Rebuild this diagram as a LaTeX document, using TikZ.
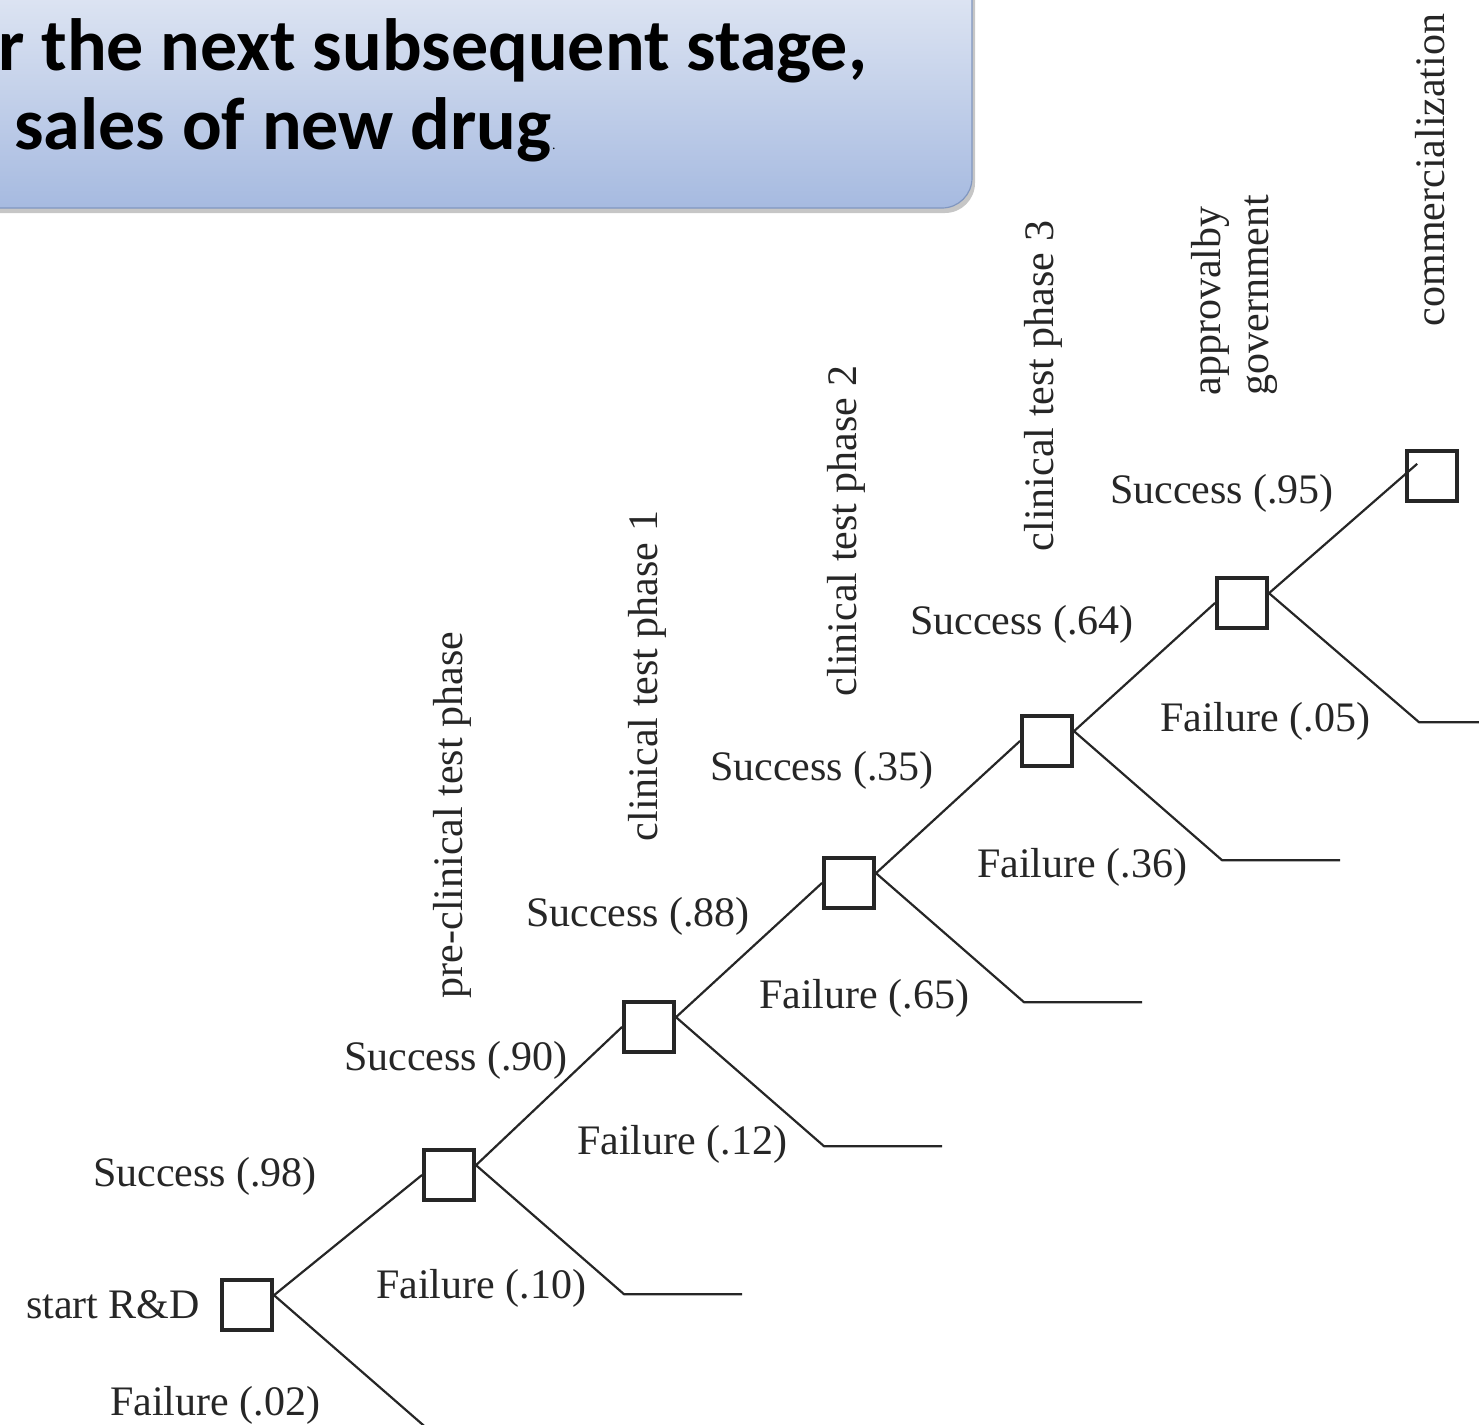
\documentclass[tikz,border=0pt]{standalone}
\usepackage{fontspec}
\setmainfont{Liberation Serif}
\newfontfamily\bannerfont{Carlito}
\usetikzlibrary{positioning, calc, shadows}
\definecolor{bannertop}{HTML}{EBEFF7}
\definecolor{bannerbottom}{HTML}{A6BAE0}
\definecolor{bannerline}{HTML}{8197C0}
\tikzset{
    stagebox/.style={
        draw=black!85,
        line width=2pt,
        minimum size=25pt,
        inner sep=0pt
    },
    branch/.style={draw=black!85, line width=1.1pt},
    prob/.style={font=\fontsize{21}{24}\selectfont, text=black!85, inner sep=0pt},
    phase/.style={
        font=\fontsize{21}{24}\selectfont,
        text=black!85,
        rotate=90,
        align=left,
        inner sep=0pt
    },
    banner/.style={
        draw=bannerline,
        line width=0.6pt,
        rounded corners=15pt,
        top color=bannertop,
        bottom color=bannerbottom,
        drop shadow={shadow xshift=1.5pt, shadow yshift=-2.5pt, opacity=0.45}
    },
    bannertext/.style={
        font={\bannerfont\fontsize{37}{40}\selectfont\bfseries},
        inner sep=0pt,
        anchor=base west
    }
}

\begin{document}
\begin{tikzpicture}[x=0.5pt, y=-0.5pt]

\useasboundingbox (0,0) rectangle (1479,1425);
\clip (0,0) rectangle (1479,1425);

% callout at the top
\path[banner] (-60,-60) rectangle (972,208);
\node[bannertext] (line1) at (-2,70) {r the next subsequent stage,};
\node[bannertext] (line2) at (14,149) {sales of new drug};
\node[font=\fontsize{7}{7}\selectfont, inner sep=0pt, anchor=base west] (dot) at (line2.base east) {.};

% stages
\node[stagebox] (rd) at (247,1305) {};
\node[stagebox] (pre) at (449,1175) {};
\node[stagebox] (ph1) at (649,1027) {};
\node[stagebox] (ph2) at (849,883) {};
\node[stagebox] (ph3) at (1047,741) {};
\node[stagebox] (gov) at (1242,603) {};
\node[stagebox] (comm) at (1432,476) {};

% success branches
\draw[branch] (rd.20) -- (pre.west);
\draw[branch] (pre.20) -- (ph1.west);
\draw[branch] (ph1.20) -- (ph2.west);
\draw[branch] (ph2.20) -- (ph3.west);
\draw[branch] (ph3.20) -- (gov.west);
\draw[branch] (gov.20) -- ($(comm.west)!0.45!(comm.north)$);

% failure branches
\draw[branch] (rd.20) -- ++(170,148) coordinate (rdOut);
\draw[branch] (pre.20) -- ++(148,129) -- ++(118,0) coordinate (preOut);
\draw[branch] (ph1.20) -- ++(148,129) -- ++(118,0) coordinate (ph1Out);
\draw[branch] (ph2.20) -- ++(148,129) -- ++(118,0) coordinate (ph2Out);
\draw[branch] (ph3.20) -- ++(148,129) -- ++(118,0) coordinate (ph3Out);
\draw[branch] (gov.20) -- ++(150,129) -- ++(118,0) coordinate (govOut);

% probabilities
\node[prob] (rdName) at (113,1305) {start R\&D};
\node[prob] (rdS) at (205,1176) {Success (.98)};
\node[prob] (rdF) at (215,1405) {Failure (.02)};
\node[prob] (preS) at (456,1060) {Success (.90)};
\node[prob] (preF) at (481,1288) {Failure (.10)};
\node[prob] (ph1S) at (638,916) {Success (.88)};
\node[prob] (ph1F) at (682,1144) {Failure (.12)};
\node[prob] (ph2S) at (822,770) {Success (.35)};
\node[prob] (ph2F) at (864,998) {Failure (.65)};
\node[prob] (ph3S) at (1022,624) {Success (.64)};
\node[prob] (ph3F) at (1082,867) {Failure (.36)};
\node[prob] (govS) at (1222,493) {Success (.95)};
\node[prob] (govF) at (1265,721) {Failure (.05)};

% phase names
\node[phase] (preL) at (452,815) {pre-clinical test phase};
\node[phase] (ph1L) at (647,676) {clinical test phase 1};
\node[phase] (ph2L) at (846,531) {clinical test phase 2};
\node[phase] (ph3L) at (1043,386) {clinical test phase 3};
\node[phase] (govL) at (1234,295) {approvalby\\government};
\node[phase] (commL) at (1430,170) {commercialization};

\end{tikzpicture}
\end{document}
